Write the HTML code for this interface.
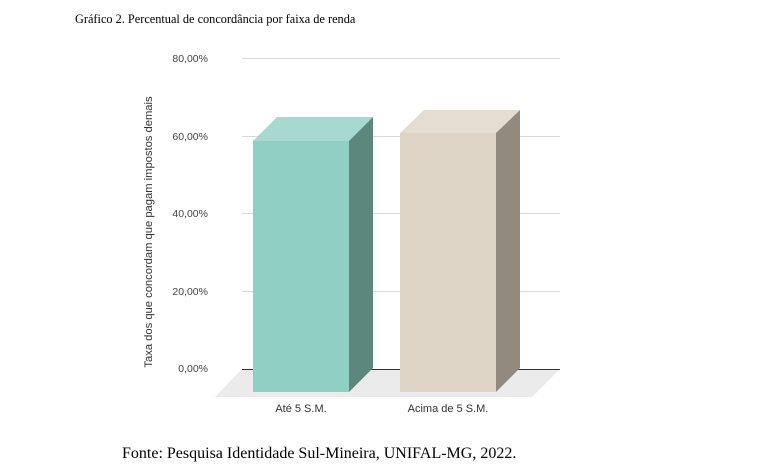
<!DOCTYPE html>
<html><head><style>body{margin:0;background:#fff}</style></head><body>
<svg width="769" height="467" xmlns="http://www.w3.org/2000/svg" style="display:block">
<text x="75" y="23" font-family="Liberation Serif" font-size="12.3" fill="#000">Gráfico 2. Percentual de concordância por faixa de renda</text>
<g stroke="#d9d9d9" stroke-width="1">
<line x1="242" y1="58.5" x2="560" y2="58.5"/>
<line x1="242" y1="136.5" x2="560" y2="136.5"/>
<line x1="242" y1="213.5" x2="560" y2="213.5"/>
<line x1="242" y1="291.5" x2="560" y2="291.5"/>
</g>
<polygon points="215,397 532,397 560,369 242,369" fill="#ebebeb"/>
<line x1="242" y1="369.5" x2="560" y2="369.5" stroke="#333" stroke-width="1"/>
<g font-family="Liberation Sans" font-size="10.5" fill="#444" text-anchor="end">
<text x="208" y="62">80,00%</text>
<text x="208" y="140">60,00%</text>
<text x="208" y="217">40,00%</text>
<text x="208" y="295">20,00%</text>
<text x="208" y="372">0,00%</text>
</g>
<text transform="translate(152,232) rotate(-90)" font-family="Liberation Sans" font-size="11.2" fill="#333" text-anchor="middle">Taxa dos que concordam que pagam impostos demais</text>
<polygon points="253,141 277,117 373,117 349,141" fill="#a7d9d0"/>
<polygon points="349,141 373,117 373,368 349,392" fill="#5b877c"/>
<rect x="253" y="141" width="96" height="251" fill="#90cfc3"/>
<polygon points="400,133 424,110 520,110 496,133" fill="#e4ddd2"/>
<polygon points="496,133 520,110 520,368 496,392" fill="#928a7f"/>
<rect x="400" y="133" width="96" height="259" fill="#ddd4c5"/>
<g font-family="Liberation Sans" font-size="11" fill="#333" text-anchor="middle">
<text x="301" y="412">Até 5 S.M.</text>
<text x="448" y="412">Acima de 5 S.M.</text>
</g>
<text x="122" y="458" font-family="Liberation Serif" font-size="16" fill="#000">Fonte: Pesquisa Identidade Sul-Mineira, UNIFAL-MG, 2022.</text>
</svg>
</body></html>
